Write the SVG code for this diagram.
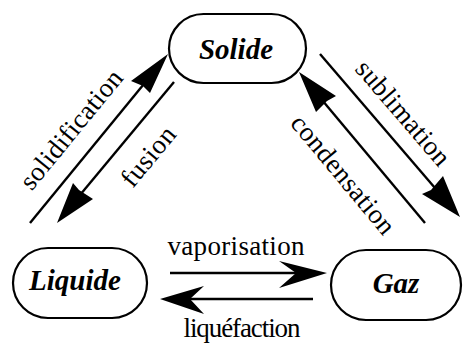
<svg xmlns="http://www.w3.org/2000/svg" width="463" height="350" viewBox="0 0 463 350">
<style>
.node{fill:#fff;stroke:#000;stroke-width:2.2}
.nt{font-family:"Liberation Serif","Times New Roman",serif;font-weight:bold;font-style:italic;font-size:29px;text-anchor:middle}
.lbl{font-family:"Liberation Serif","Times New Roman",serif;font-size:27px;text-anchor:middle}
.ln{stroke:#000;stroke-width:2.4;fill:none}
.hd{fill:#000;stroke:none}
</style>
<rect width="463" height="350" fill="#fff"/>
<g id="solide"><rect class="node" x="169" y="14" width="137" height="69" rx="34.5"/><text class="nt" x="236" y="59">Solide</text></g>
<g id="liquide"><rect class="node" x="13" y="248" width="134" height="70" rx="35"/><text class="nt" x="75" y="290">Liquide</text></g>
<g id="gaz"><rect class="node" x="331" y="250" width="130" height="70" rx="35"/><text class="nt" x="396" y="293">Gaz</text></g>
<g id="connectors">
<line class="ln" x1="170" y1="273" x2="298" y2="273"/>
<polygon class="hd" points="327,273 279,261 296,273 279,288"/>
<line class="ln" x1="313" y1="299" x2="190" y2="299"/>
<polygon class="hd" points="160,299 204,286 190,299 204,314"/>
<line class="ln" x1="30" y1="223" x2="148" y2="79"/>
<polygon class="hd" points="168,54 150,93 143,86 131,81"/>
<line class="ln" x1="174" y1="82" x2="75" y2="201"/>
<polygon class="hd" points="57,223 73,183 79,190 93,199"/>
<line class="ln" x1="320" y1="54" x2="441" y2="195"/>
<polygon class="hd" points="460,217 422,194 431,190 443,176"/>
<line class="ln" x1="425" y1="223" x2="317" y2="94"/>
<polygon class="hd" points="299,72 336,96 327,101 316,112"/>
</g>
<g id="labels">
<text class="lbl" x="236" y="255" textLength="137" lengthAdjust="spacing">vaporisation</text>
<text class="lbl" x="242" y="337" textLength="117" lengthAdjust="spacing">liquéfaction</text>
<text class="lbl" transform="translate(78,135) rotate(-50.7)" textLength="146" lengthAdjust="spacing">solidification</text>
<text class="lbl" transform="translate(155,162) rotate(-50.3)" textLength="70" lengthAdjust="spacing">fusion</text>
<text class="lbl" transform="translate(396.5,118.7) rotate(49.3)" textLength="130" lengthAdjust="spacing">sublimation</text>
<text class="lbl" transform="translate(336.4,180.1) rotate(50.2)" textLength="147" lengthAdjust="spacing">condensation</text>
</g>
</svg>
